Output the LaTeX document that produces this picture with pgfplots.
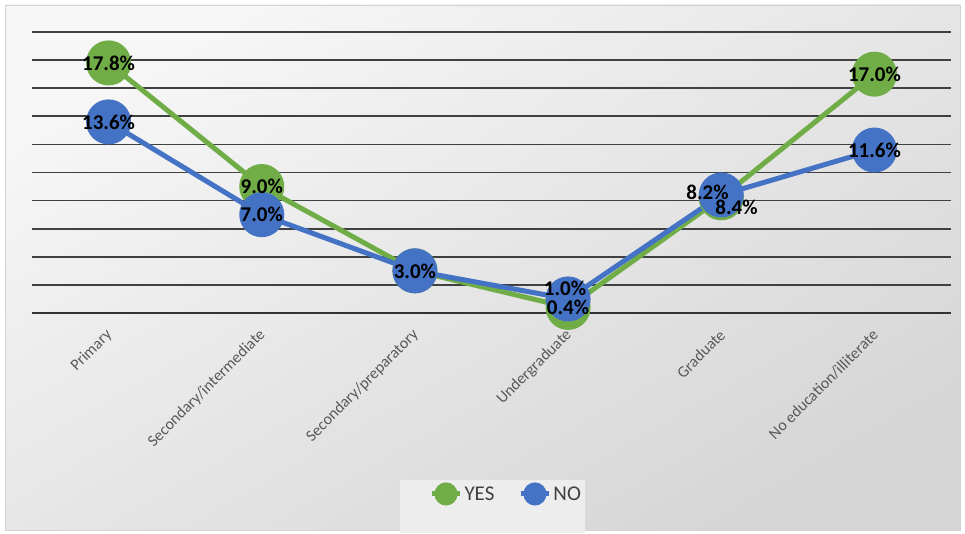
\documentclass[border=0pt]{standalone}
\usepackage{pgfplots}
\pgfplotsset{compat=1.18}
\usepackage{fontspec}
\setmainfont{Carlito}
\definecolor{cgreen}{HTML}{70AD47}
\definecolor{cblue}{HTML}{4472C4}
\begin{document}
\begin{tikzpicture}[x=1pt,y=1pt]
\fill[white] (0,0) rectangle (965,533);
\shade[top color=gray!7, bottom color=gray!32, shading angle=30] (5,3) rectangle (960,528);
\draw[gray!35, line width=0.8pt] (5,3) rectangle (960,528);
\fill[gray!14] (400,0) rectangle (585,53);
\begin{axis}[
  at={(32pt,220pt)}, anchor=south west, scale only axis,
  width=919pt, height=281pt,
  xmin=-0.5, xmax=5.5, ymin=0, ymax=20,
  ytick={2,4,...,20}, yticklabels={},
  extra y ticks={0}, extra y tick labels={},
  extra y tick style={grid style={black!80, line width=2.6pt}},
  xtick={0,...,5},
  xticklabels={Primary,Secondary/intermediate,Secondary/preparatory,Undergraduate,Graduate,No education/illiterate},
  xticklabel style={xshift=3.5pt, yshift=-17pt, rotate=45, anchor=east, font=\fontsize{16}{16}\selectfont, text=black!65},
  axis line style={draw=none}, major tick length=0pt,
  ymajorgrids, grid style={black!75, line width=1.6pt},
  clip=false,
  legend style={at={(0.516,-0.644)}, anchor=center, draw=none, fill=none,
    legend columns=2, font=\fontsize{21}{21}\selectfont, text=black!75,
    /tikz/every even column/.append style={column sep=22pt}},
  legend image code/.code={\draw[#1, line width=5pt, mark=none] (0pt,0pt) -- (28pt,0pt); \fill[#1] (14pt,0pt) circle (9pt);},
]
\addplot[cgreen, line width=5pt, mark=*, mark size=20pt, mark options={fill=cgreen, draw=none}]
  coordinates {(0,17.8) (1,9.0) (2,3.0) (3,0.4) (4,8.2) (5,17.0)};
\addlegendentry{YES}
\addplot[cblue, line width=5pt, mark=*, mark size=20pt, mark options={fill=cblue, draw=none}]
  coordinates {(0,13.6) (1,7.0) (2,3.0) (3,1.0) (4,8.4) (5,11.6)};
\addlegendentry{NO}
\addplot[draw=none, mark=none, forget plot, nodes near coords, point meta=explicit symbolic,
  every node near coord/.style={font=\bfseries\fontsize{21}{21}\selectfont, anchor=center, text=black, inner sep=0pt}]
  coordinates {(0,17.8)[17.8\%] (0,13.6)[13.6\%] (1,9.0)[9.0\%] (1,7.0)[7.0\%] (2,3.0)[3.0\%]
  (2.98,1.78)[1.0\%] (3,0.43)[0.4\%] (3.91,8.61)[8.2\%] (4.10,7.54)[8.4\%] (5,17.0)[17.0\%] (5,11.6)[11.6\%]};
\end{axis}
\end{tikzpicture}
\end{document}
